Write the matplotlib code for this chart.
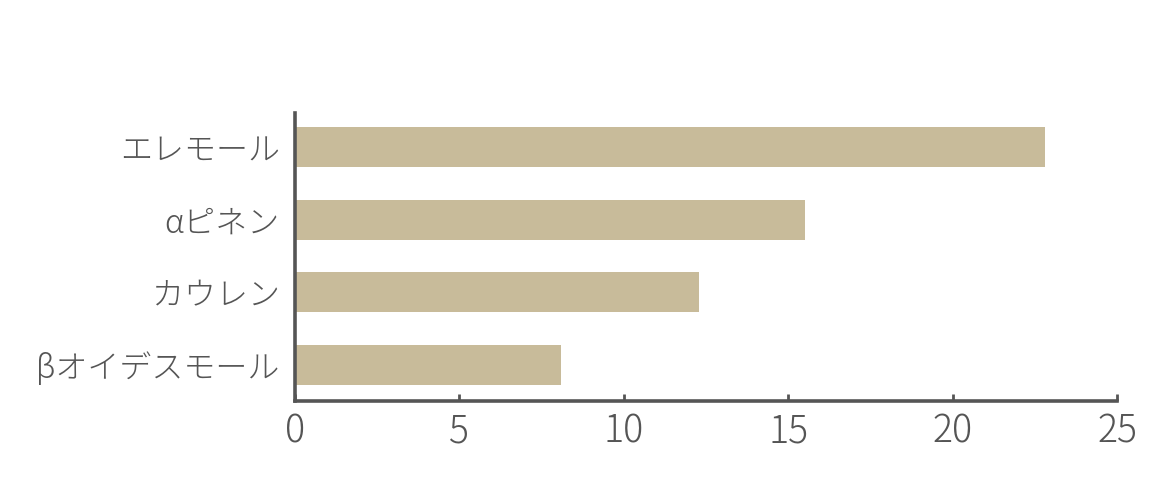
import matplotlib
matplotlib.use("Agg")
import matplotlib.pyplot as plt

plt.rcParams['font.family'] = ['Noto Sans CJK JP', 'DejaVu Sans']
plt.rcParams['font.weight'] = 'light'

# data (top to bottom in the picture)
labels = ["エレモール", "αピネン", "カウレン", "βオイデスモール"]
values = [22.8, 15.5, 12.3, 8.1]
xticks = [0, 5, 10, 15, 20, 25]

bar_color = "#c8bb9a"
axis_color = "#555555"

fig = plt.figure(figsize=(11.7, 5), dpi=100)
ax = fig.add_axes([0.2521, 0.198, 0.7026, 0.576])

pos = list(range(len(labels)))[::-1]
ax.barh(pos, values, height=0.55, color=bar_color)

ax.set_xlim(0, 25)
ax.set_ylim(-0.5, len(labels) - 1 + 0.47)
ax.set_xticks(xticks)
ax.set_xticklabels([str(t) for t in xticks])
ax.set_yticks(pos)
ax.set_yticklabels(labels)

for s in ["top", "right"]:
    ax.spines[s].set_visible(False)
for s in ["left", "bottom"]:
    ax.spines[s].set_color(axis_color)
    ax.spines[s].set_linewidth(2.6)
    ax.spines[s].set_zorder(3)

ax.tick_params(axis="x", direction="in", length=5, width=2, color=axis_color,
               labelsize=27, labelcolor=axis_color, pad=8)
ax.tick_params(axis="y", length=0, labelsize=23, labelcolor=axis_color, pad=11)

fig.savefig("out.png", dpi=100)
